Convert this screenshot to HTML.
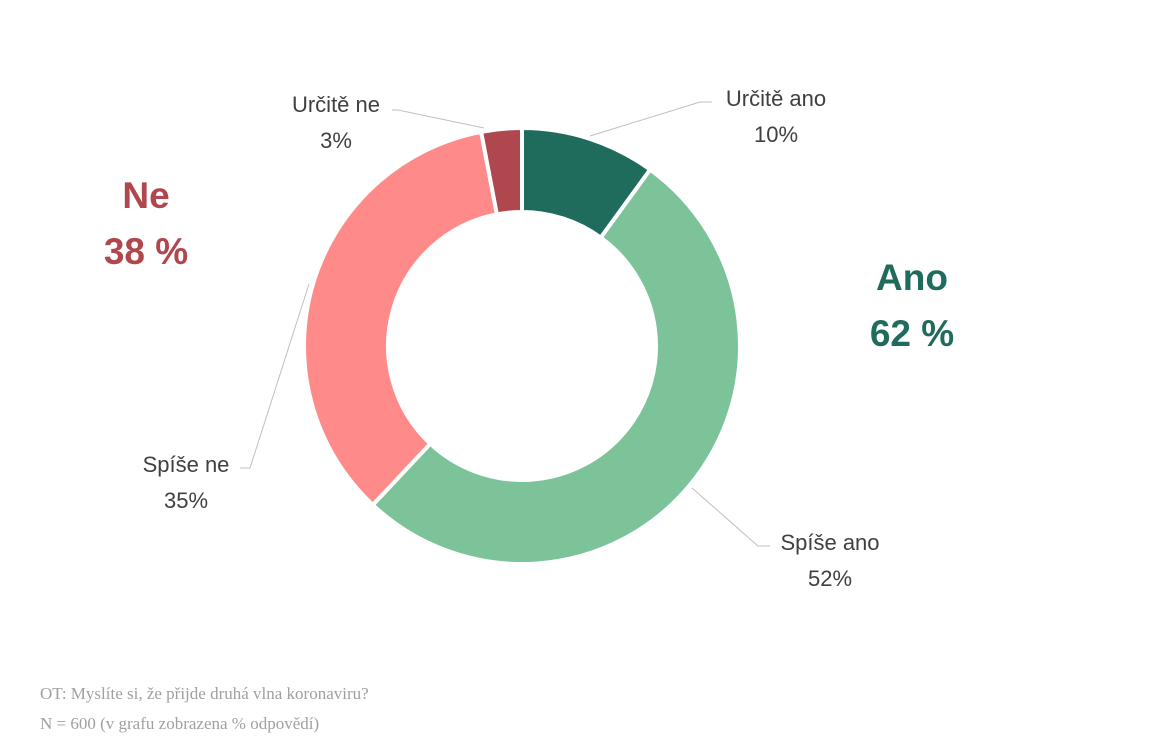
<!DOCTYPE html>
<html><head><meta charset="utf-8"><style>
body{margin:0;background:#fff;width:1152px;height:755px;overflow:hidden}
svg{display:block}
.lbl{font-family:"Liberation Sans",sans-serif;font-size:22px;fill:#404040;text-anchor:middle}
.big{font-family:"Liberation Sans",sans-serif;font-size:37px;font-weight:bold;text-anchor:middle}
.foot{font-family:"Liberation Serif",serif;font-size:17px;fill:#a0a0a0}
</style></head><body>
<svg width="1152" height="755">
<g id="slices"></g>
<g stroke="#bfbfbf" fill="none" stroke-width="1">
<polyline points="590,136 700,102 712,102"/>
<polyline points="484,128 398,110 392,110"/>
<polyline points="309,284 250,468 240,468"/>
<polyline points="692,488 758,546 770,546"/>
</g>
<text class="lbl" x="776" y="106">Určitě ano</text>
<text class="lbl" x="776" y="142">10%</text>
<text class="lbl" x="336" y="112">Určitě ne</text>
<text class="lbl" x="336" y="148">3%</text>
<text class="lbl" x="186" y="472">Spíše ne</text>
<text class="lbl" x="186" y="508">35%</text>
<text class="lbl" x="830" y="550">Spíše ano</text>
<text class="lbl" x="830" y="586">52%</text>
<text class="big" x="146" y="208" fill="#b0474e">Ne</text>
<text class="big" x="146" y="264" fill="#b0474e">38 %</text>
<text class="big" x="912" y="290" fill="#1f6b5c">Ano</text>
<text class="big" x="912" y="346" fill="#1f6b5c">62 %</text>
<text class="foot" x="40" y="699">OT: Myslíte si, že přijde druhá vlna koronaviru?</text>
<text class="foot" x="40" y="729">N = 600 (v grafu zobrazena % odpovědí)</text>
</svg>
<script>
const categories=["Určitě ano","Spíše ano","Spíše ne","Určitě ne"];
const values=[10,52,35,3];
const colors=["#1f6b5c","#7dc39a","#ff8a8a","#b0474e"];
const cx=522,cy=346,R=218,r=134;
const g=document.getElementById('slices');
const total=values.reduce((a,b)=>a+b,0);
let a0=0;
function pt(rad,a){return [cx+rad*Math.sin(a),cy-rad*Math.cos(a)];}
values.forEach((v,i)=>{
 const a1=a0+v/total*2*Math.PI;
 const large=(a1-a0)>Math.PI?1:0;
 const [x1,y1]=pt(R,a0),[x2,y2]=pt(R,a1),[x3,y3]=pt(r,a1),[x4,y4]=pt(r,a0);
 const p=document.createElementNS('http://www.w3.org/2000/svg','path');
 p.setAttribute('d',`M${x1},${y1}A${R},${R} 0 ${large} 1 ${x2},${y2}L${x3},${y3}A${r},${r} 0 ${large} 0 ${x4},${y4}Z`);
 p.setAttribute('fill',colors[i]);
 p.setAttribute('stroke','#fff');
 p.setAttribute('stroke-width','4');
 
 
 g.appendChild(p);
 a0=a1;
});
</script>
</body></html>
